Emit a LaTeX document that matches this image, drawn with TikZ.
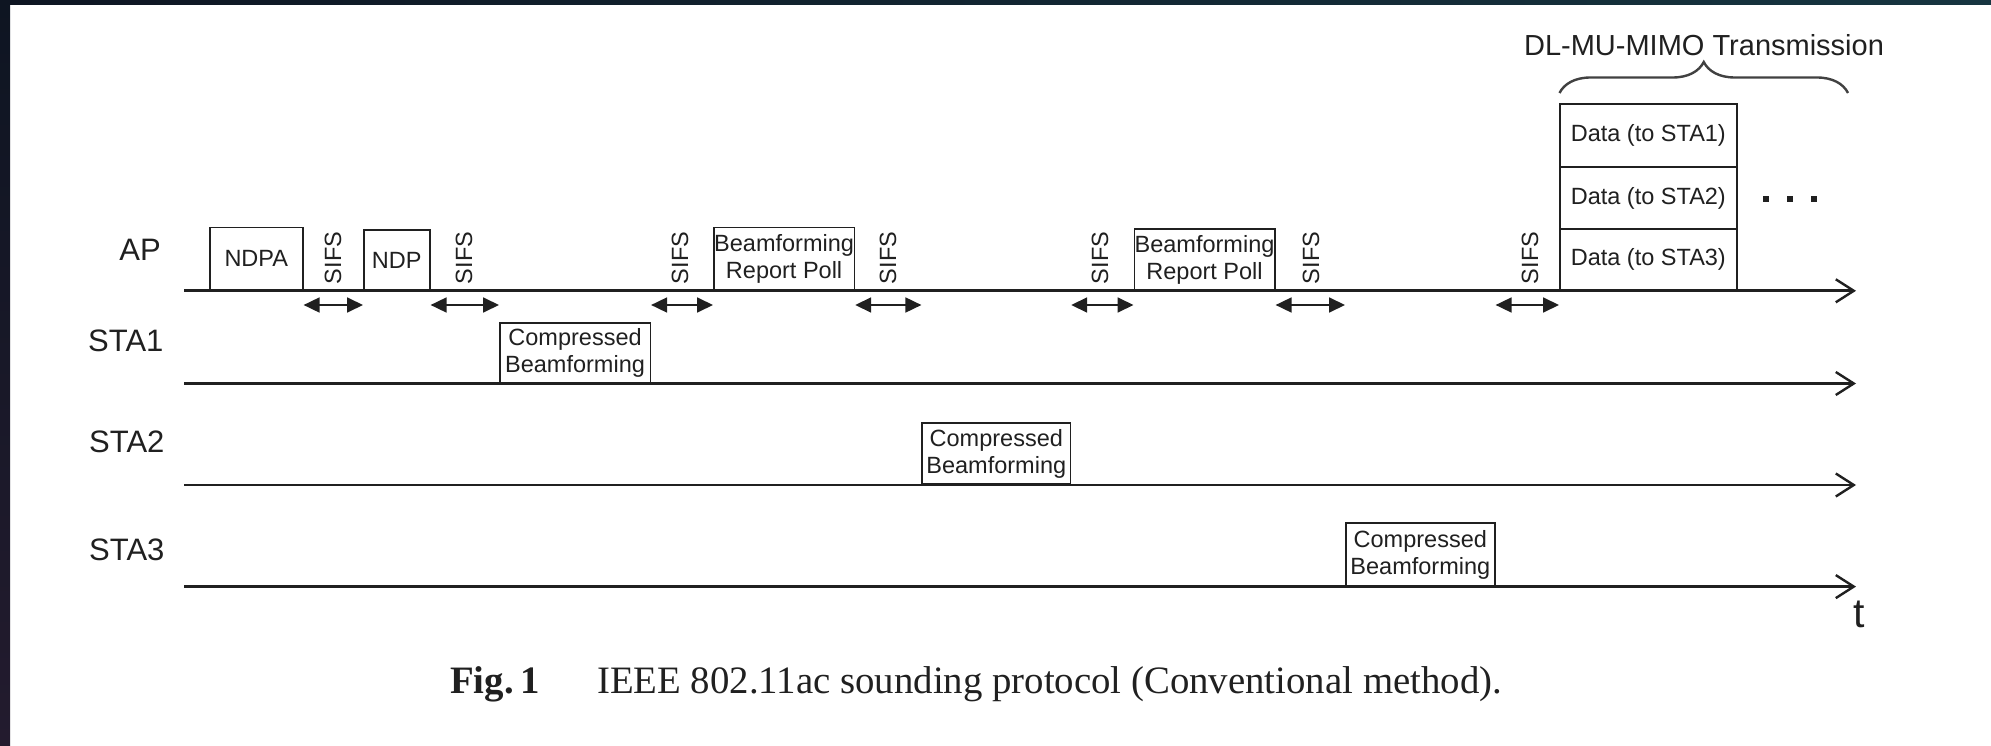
\documentclass[tikz,border=0pt]{standalone}
\usepackage{fontspec}
\setmainfont{Liberation Sans}
\newfontfamily\captionserif{Liberation Serif}
\usetikzlibrary{arrows.meta,decorations.pathreplacing,calc}

\definecolor{ink}{HTML}{202020}
\definecolor{edgeA}{RGB}{14,21,34}
\definecolor{edgeB}{RGB}{22,53,64}
\definecolor{edgeC}{RGB}{35,27,46}

\newcommand\cellfont{\fontsize{23.5}{27}\selectfont}

\begin{document}
\begin{tikzpicture}[x=1pt,y=-1pt,
  frame/.style={draw=ink, line width=1.6pt, inner sep=0pt, align=center,
    text=ink, font=\cellfont, anchor=south west},
  timeline/.style={draw=ink, line width=2.8pt,
    -{Straight Barb[length=18pt,width=23pt,line width=2.4pt]}},
  gaparrow/.style={draw=ink, line width=1.8pt,
    {Triangle[length=16pt,width=15pt]}-{Triangle[length=16pt,width=15pt]}},
  sifs/.style={rotate=90, text=ink, font=\cellfont, inner sep=0pt},
  station/.style={text=ink, font=\fontsize{31}{34}\selectfont, inner sep=0pt},
  dotmark/.style={fill=ink, minimum size=6pt, inner sep=0pt},
  bracestyle/.style={draw=ink!85, line width=2.4pt, decorate,
    decoration={brace, amplitude=31pt}}]

\useasboundingbox (0,0) rectangle (1991,746);
\fill[white] (0,0) rectangle (1991,746);

% dark edges of the page
\shade[left color=edgeA, right color=edgeB] (0,0) rectangle (1991,5);
\shade[top color=edgeA, bottom color=edgeC] (0,0) rectangle (10,746);

% station labels
\node[station, anchor=base] (lap) at (140,260) {AP};
\node[station, anchor=base west] (lsta1) at (88,351) {STA1};
\node[station, anchor=base west] (lsta2) at (89,452) {STA2};
\node[station, anchor=base west] (lsta3) at (89,560) {STA3};

% time axes
\coordinate (apL) at (184,290.8);   \coordinate (apR) at (1856,290.8);
\coordinate (s1L) at (184,383.5);   \coordinate (s1R) at (1856,383.5);
\coordinate (s2L) at (184,485);     \coordinate (s2R) at (1856,485);
\coordinate (s3L) at (184,586.6);   \coordinate (s3R) at (1856,586.6);
\draw[timeline] (apL) -- (apR);
\draw[timeline] (s1L) -- (s1R);
\draw[timeline] (s2L) -- (s2R);
\draw[timeline] (s3L) -- (s3R);
\node[text=ink, font=\fontsize{41}{44}\selectfont, inner sep=0pt, anchor=base] (tlabel) at (1859,627) {t};

% frames
\node[frame, minimum width=93pt, minimum height=62.5pt] (ndpa) at (209,290.8) {NDPA};
\node[frame, minimum width=66pt, minimum height=60pt] (ndp) at (363,290.8) {NDP};
\node[frame, minimum width=150.5pt, minimum height=59.5pt] (cb1) at (499,383.5) {Compressed\\Beamforming};
\node[frame, minimum width=140.6pt, minimum height=62.5pt] (brp1) at (713,290.8) {Beamforming\\Report Poll};
\node[frame, minimum width=148.2pt, minimum height=61pt] (cb2) at (921.4,485) {Compressed\\Beamforming};
\node[frame, minimum width=140.5pt, minimum height=60.8pt] (brp2) at (1133.5,290.8) {Beamforming\\Report Poll};
\node[frame, minimum width=149pt, minimum height=62.6pt] (cb3) at (1345,586.6) {Compressed\\Beamforming};
\node[frame, minimum width=177pt, minimum height=60.8pt] (d3) at (1559,290.8) {Data (to STA3)};
\node[frame, minimum width=177pt, minimum height=62pt] (d2) at (1559,230) {Data (to STA2)};
\node[frame, minimum width=177pt, minimum height=63pt] (d1) at (1559,168) {Data (to STA1)};

% SIFS intervals
\coordinate (row) at (0,305);
\draw[gaparrow] (ndpa.east |- row) -- (ndp.west |- row);
\draw[gaparrow] (ndp.east |- row) -- (cb1.west |- row);
\draw[gaparrow] (cb1.east |- row) -- (brp1.west |- row);
\draw[gaparrow] (brp1.east |- row) -- (cb2.west |- row);
\draw[gaparrow] (cb2.east |- row) -- (brp2.west |- row);
\draw[gaparrow] (brp2.east |- row) -- (cb3.west |- row);
\draw[gaparrow] (cb3.east |- row) -- (d3.west |- row);

\node[sifs] (sifs1) at (333,258) {SIFS};
\node[sifs] (sifs2) at (464,258) {SIFS};
\node[sifs] (sifs3) at (680,258) {SIFS};
\node[sifs] (sifs4) at (888,258) {SIFS};
\node[sifs] (sifs5) at (1100,258) {SIFS};
\node[sifs] (sifs6) at (1311,258) {SIFS};
\node[sifs] (sifs7) at (1530,258) {SIFS};

% continuation dots
\node[dotmark] (dotA) at (1766,199) {};
\node[dotmark] (dotB) at (1790,199) {};
\node[dotmark] (dotC) at (1814,199) {};

% multi-user transmission brace
\coordinate (brL) at (1559.5,93);
\coordinate (brR) at (1848,93);
\draw[bracestyle] (brL) -- (brR);
\node[text=ink, font=\fontsize{29}{32}\selectfont, inner sep=0pt, anchor=base] (mutitle) at (1704,55.5) {DL-MU-MIMO Transmission};

% caption
\node[text=ink, font=\captionserif\bfseries\fontsize{38.8}{42}\selectfont, inner sep=0pt, anchor=base west] (fignum) at (450,693) {Fig.\kern0.16em1};
\node[text=ink, font=\captionserif\fontsize{38.8}{42}\selectfont, inner sep=0pt, anchor=base west] (figtext) at (597,693) {IEEE 802.11ac sounding protocol (Conventional method).};
\end{tikzpicture}
\end{document}
